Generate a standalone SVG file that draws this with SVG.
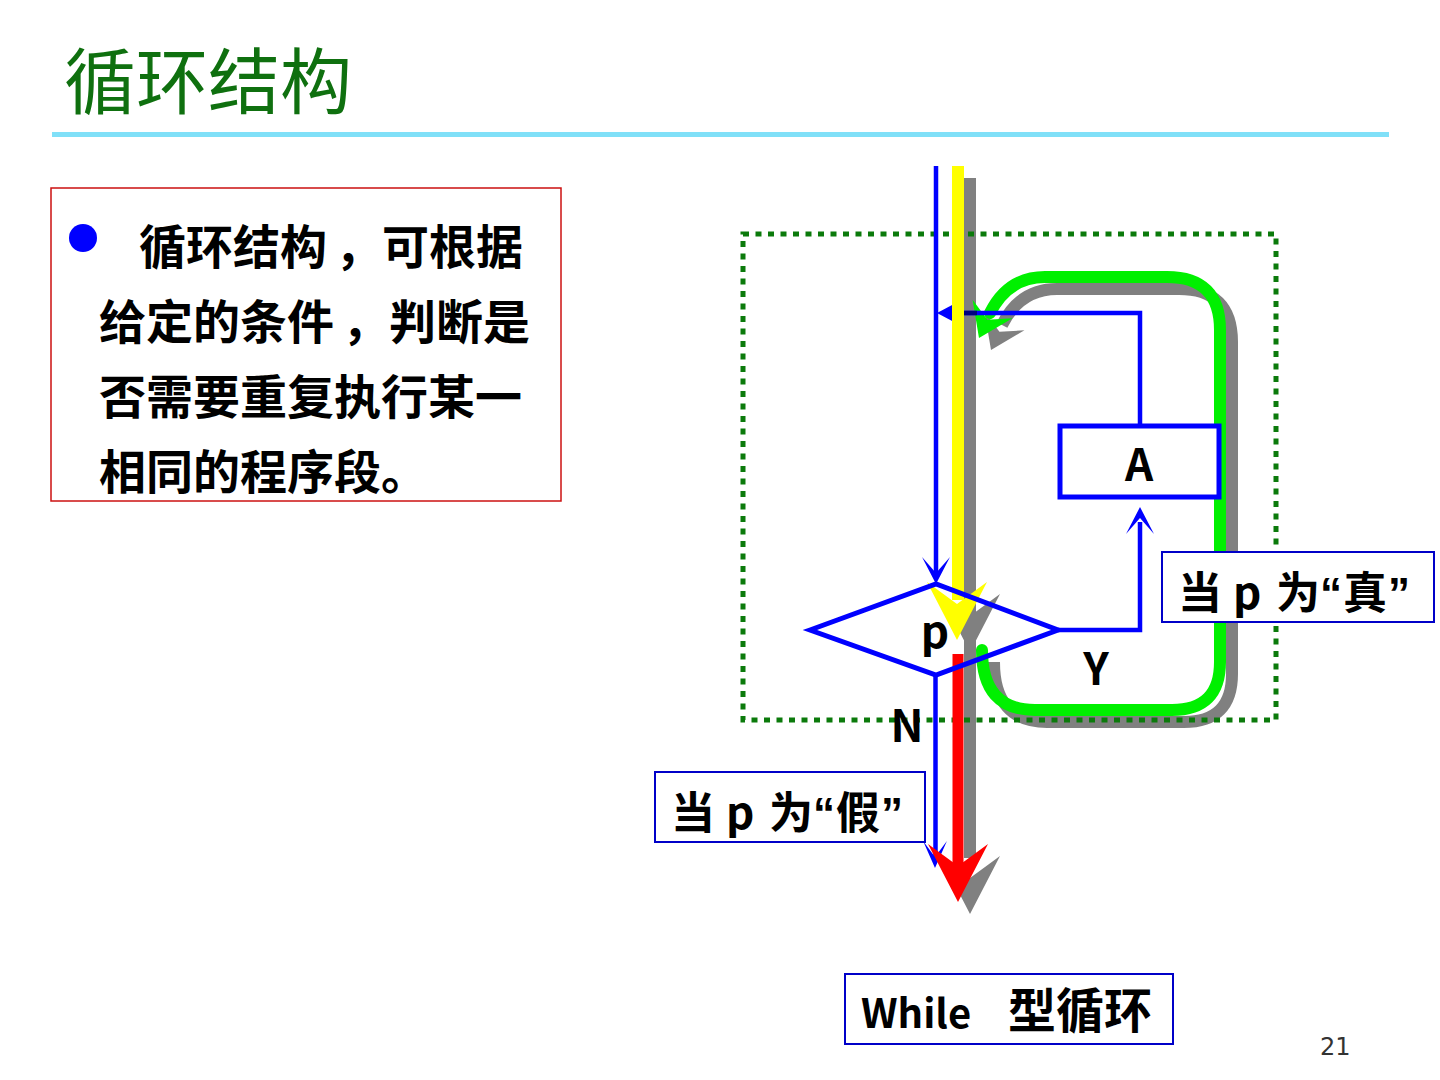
<svg xmlns="http://www.w3.org/2000/svg" xmlns:xlink="http://www.w3.org/1999/xlink" width="1440" height="1080" viewBox="0 0 1440 1080">
<style>
.cjk{font-family:"Noto Sans CJK SC","Liberation Sans",sans-serif;}
.q{font-family:"Liberation Sans","Noto Sans CJK SC",sans-serif;}
.b{font-weight:bold;fill:#000;}
.title{font-size:72px;fill:#0f700f;font-weight:normal;}
.para{font-size:47px;font-weight:bold;fill:#000;}
.lbl{font-size:44px;}
.ln{fill:none;stroke:#0000ff;stroke-width:4.5;}
.sh{fill:none;stroke:#808080;stroke-width:12;}
.box{fill:#fff;stroke:#0000c8;stroke-width:2;}
</style>
<defs>
<path id="bh" d="M0,0 L-27,-14 L-11,0 L-27,14 Z"/>
<path id="ch" d="M0,0 L-58,-30 L-36,0 L-58,30 Z"/>
<path id="gh" d="M0,0 L-32,-22 L-20,0 L-32,22 Z"/>
</defs>
<rect width="1440" height="1080" fill="#fff"/>

<g id="title">
<text class="cjk title" x="64" y="108">循环结构</text>
<rect x="52" y="132" width="1337" height="5" fill="#80e0f8"/>
</g>

<g id="desc">
<rect x="51" y="188" width="510" height="313" fill="#fff" stroke="#cc1010" stroke-width="1.5"/>
<circle cx="83" cy="238" r="14" fill="#0000ff"/>
<text class="cjk para" x="139" y="264">循环结构<tspan dx="8">，</tspan>可根据</text>
<text class="cjk para" x="99" y="339">给定的条件<tspan dx="8">，</tspan>判断是</text>
<text class="cjk para" x="99" y="414">否需要重复执行某一</text>
<text class="cjk para" x="99" y="489">相同的程序段。</text>
</g>

<g id="connectors">
<!-- shadows -->
<line class="sh" x1="970" y1="178" x2="970" y2="858"/>
<use href="#ch" fill="#808080" transform="translate(970,652) rotate(90)"/>
<use href="#ch" fill="#808080" transform="translate(970,914) rotate(90)"/>
<g transform="translate(12,12)">
<path class="sh" d="M982,650 Q982,710 1035,710 L1172,710 Q1220,710 1220,662 L1220,330 Q1220,277 1167,277 L1045,277 Q1008,277 990,313"/>
<use href="#gh" fill="#808080" transform="translate(979,338) rotate(115)"/>
</g>
<!-- loop region -->
<rect id="loop-region" x="743" y="234" width="533" height="486" fill="none" stroke="#0b7a0b" stroke-width="5" stroke-dasharray="6 6.5"/>
<!-- green loop -->
<path d="M982,650 Q982,710 1035,710 L1172,710 Q1220,710 1220,662 L1220,330 Q1220,277 1167,277 L1045,277 Q1008,277 990,313" fill="none" stroke="#00f000" stroke-width="12" stroke-linecap="round"/>
<use href="#gh" fill="#00f000" transform="translate(979,338) rotate(115)"/>
<!-- back edge from A -->
<polyline class="ln" points="1140,426 1140,313 950,313"/>
<line x1="963" y1="313" x2="977" y2="313" stroke="#000080" stroke-width="4.5"/>
<polygon points="937,313 954,304 954,322" fill="#0000ff"/>
<!-- yellow / red flow -->
<line x1="958" y1="166" x2="958" y2="600" stroke="#ffff00" stroke-width="12"/>
<use href="#ch" fill="#ffff00" transform="translate(957,640) rotate(90)"/>
<line x1="958" y1="654" x2="958" y2="870" stroke="#ff0000" stroke-width="11"/>
<!-- blue entry / exit -->
<line class="ln" x1="936" y1="166" x2="936" y2="574"/>
<use href="#bh" fill="#0000ff" transform="translate(936,584) rotate(90)"/>
<line class="ln" x1="935.5" y1="675" x2="935.5" y2="858"/>
<use href="#bh" fill="#0000ff" transform="translate(935,868) rotate(90) scale(1,0.85)"/>
<use href="#ch" fill="#ff0000" transform="translate(958,902) rotate(90)"/>
<!-- Y branch -->
<polyline class="ln" points="1058,630 1140,630 1140,522"/>
<use href="#bh" fill="#0000ff" transform="translate(1140,507) rotate(-90)"/>
</g>

<g id="decision-p">
<polygon points="810,630 936,584 1058,630 936,675" fill="none" stroke="#0000ff" stroke-width="5"/>
<text class="cjk b lbl" x="935" y="648" text-anchor="middle">p</text>
</g>

<g id="process-A">
<rect x="1060" y="426" width="159" height="71" fill="#fff" stroke="#0000ff" stroke-width="5"/>
<text class="cjk b lbl" x="1139" y="481" text-anchor="middle">A</text>
</g>

<g id="label-Y"><text class="cjk b lbl" x="1096" y="685" text-anchor="middle">Y</text></g>
<g id="label-N"><text class="cjk b lbl" x="907" y="742" text-anchor="middle">N</text></g>

<g id="note-true">
<rect class="box" x="1162" y="552" width="272" height="70"/>
<text class="cjk b lbl" y="609"><tspan x="1178">当</tspan><tspan x="1233">p</tspan><tspan x="1276">为</tspan><tspan class="q" x="1320">“</tspan><tspan x="1343">真</tspan><tspan class="q" x="1388">”</tspan></text>
</g>

<g id="note-false">
<rect class="box" x="655" y="772" width="270" height="70"/>
<text class="cjk b lbl" y="829"><tspan x="671">当</tspan><tspan x="726">p</tspan><tspan x="769">为</tspan><tspan class="q" x="813">“</tspan><tspan x="836">假</tspan><tspan class="q" x="881">”</tspan></text>
</g>

<g id="caption">
<rect class="box" x="845" y="974" width="328" height="70"/>
<text class="cjk b" y="1028"><tspan x="861" font-size="40">While</tspan><tspan x="1008" font-size="48">型循环</tspan></text>
</g>

<text x="1320" y="1055" font-family="DejaVu Sans, sans-serif" font-size="24" fill="#333">21</text>
</svg>
